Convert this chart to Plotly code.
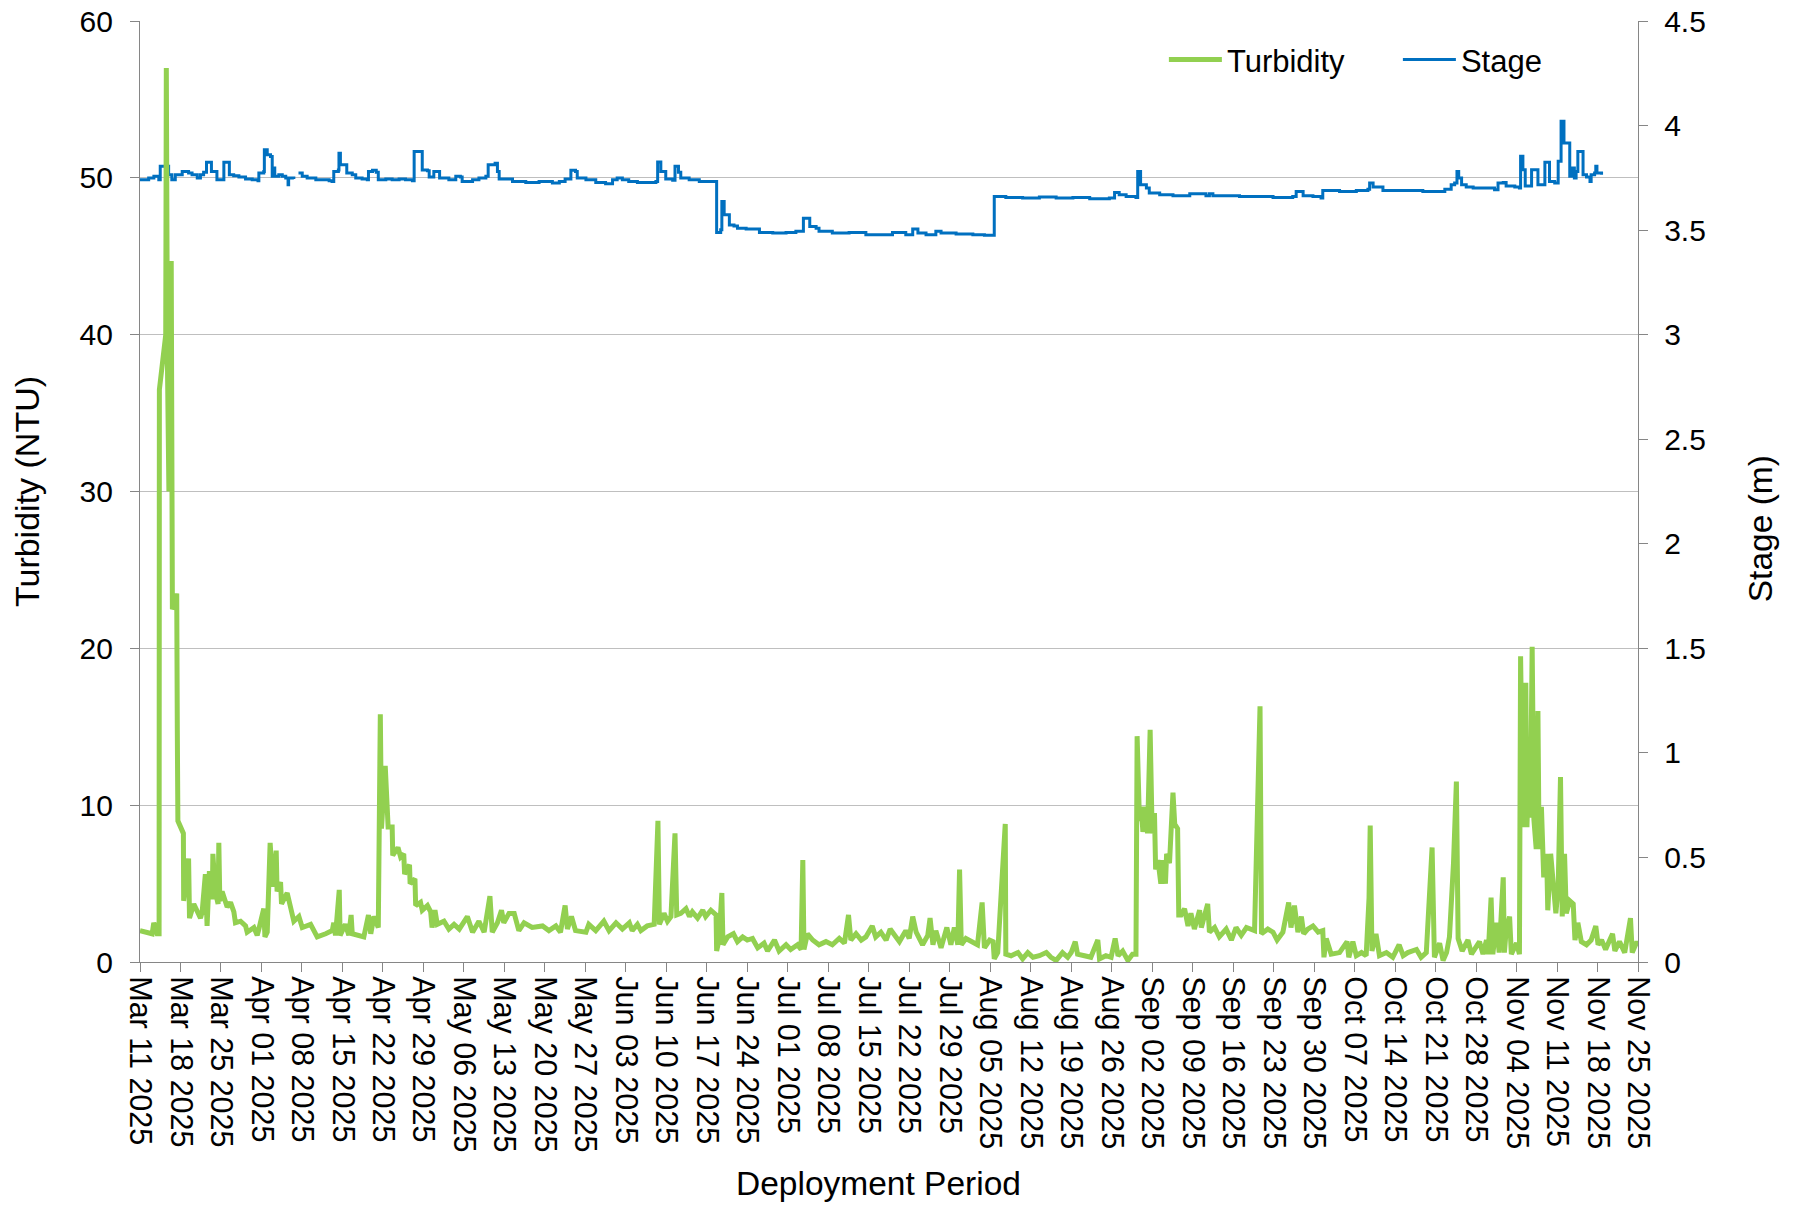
import pandas as pd
import plotly.graph_objects as go

START = pd.Timestamp("2025-03-11")
END = pd.Timestamp("2025-11-25")

# Turbidity (NTU): time as days since deployment start
turb_day = [
    0.0, 0.9, 2.1, 2.38, 2.96, 3.3, 3.35, 4.45, 4.55, 4.75, 5.0, 5.4, 5.6, 6.0, 6.35, 6.45, 6.55,
    7.5, 7.55, 8.4, 8.56, 9.3, 9.88, 10.46, 10.75, 11.3, 11.6, 12.0, 12.5, 12.6, 13.0, 13.5, 13.63,
    13.8, 14.2, 15.07, 15.65, 16.23, 16.5, 17.38, 18.25, 18.53, 19.69, 20.26, 20.55, 21.4, 21.6,
    22.0, 22.5, 22.97, 23.55, 23.7, 24.3, 24.47, 25.45, 26.03, 26.6, 27.47, 28.05, 29.5, 30.64,
    32.1, 33.24, 33.5, 33.8, 34.45, 34.6, 35.5, 36.1, 36.5, 36.7, 38.7, 39.5, 39.9, 40.45, 41.2,
    41.55, 41.75, 42.4, 42.9, 43.6, 43.7, 44.6, 45.06, 45.6, 45.75, 46.6, 46.7, 47.54, 47.66,
    48.5, 48.8, 49.7, 50.25, 50.5, 51.0, 51.4, 52.56, 53.4, 54.3, 55.2, 56.6, 57.5, 58.6, 59.5,
    60.5, 60.9, 61.8, 62.5, 62.9, 63.8, 64.7, 65.5, 66.4, 67.8, 69.6, 70.7, 71.9, 72.7, 73.5,
    73.9, 74.6, 75.3, 77.1, 77.6, 78.8, 80.2, 81.1, 82.3, 83.4, 84.6, 85.1, 86.0, 86.6, 87.7,
    88.9, 89.55, 89.8, 90.6, 91.2, 91.8, 92.5, 92.8, 93.5, 94.4, 95.0, 95.5, 96.4, 97.3, 97.8,
    98.7, 99.6, 99.7, 100.1, 100.6, 100.8, 101.6, 102.6, 103.3, 104.2, 105.0, 105.9, 106.8,
    107.9, 108.5, 109.7, 110.5, 111.7, 112.5, 113.7, 114.3, 114.6, 114.8, 115.4, 116.3, 117.4,
    118.6, 119.7, 120.9, 121.8, 122.5, 122.9, 123.8, 124.7, 125.5, 126.6, 127.2, 128.1, 129.0,
    129.7, 130.4, 131.3, 132.4, 133.0, 133.6, 134.2, 135.3, 136.2, 136.6, 137.1, 137.6, 138.5,
    139.5, 140.2, 140.8, 141.4, 141.7, 142.0, 142.8, 144.0, 144.8, 145.6, 146.0, 146.9, 147.5,
    147.7, 148.3, 149.6, 149.7, 150.6, 151.8, 152.6, 153.5, 154.4, 155.5, 156.7, 157.5, 158.4,
    159.5, 160.4, 161.0, 161.7, 162.1, 163.3, 164.4, 165.6, 165.9, 167.0, 167.9, 168.6, 169.1,
    169.9, 170.8, 171.6, 172.2, 172.4, 172.8, 173.1, 173.4, 173.95, 174.2, 174.65, 175.0, 175.4,
    175.6, 176.0, 176.5, 176.8, 177.3, 177.5, 178.0, 178.6, 178.9, 179.4, 179.6, 180.0, 180.6,
    181.2, 181.7, 182.3, 183.2, 183.5, 184.6, 184.9, 185.8, 186.6, 187.8, 188.7, 189.5, 190.4,
    191.3, 192.7, 193.65, 193.9, 195.0, 195.9, 196.6, 197.6, 198.6, 199.0, 199.6, 200.2, 200.8,
    201.2, 201.9, 202.8, 203.7, 204.5, 204.7, 205.1, 205.95, 207.4, 208.7, 209.0, 209.7, 210.3,
    211.2, 212.0, 212.5, 212.7, 213.0, 213.7, 214.3, 215.5, 216.6, 217.7, 218.4, 219.2, 220.7,
    221.5, 222.4, 223.4, 223.8, 224.7, 225.3, 225.9, 226.4, 227.1, 227.6, 227.9, 228.6, 229.6,
    230.2, 231.6, 232.2, 232.8, 233.1, 233.6, 233.9, 234.5, 235.0, 235.7, 235.9, 236.2, 236.8,
    237.1, 238.0, 238.5, 238.7, 239.1, 239.6, 239.8, 240.2, 240.4, 240.7, 241.0, 241.4, 241.7,
    241.9, 242.3, 242.7, 243.2, 243.4, 243.9, 244.3, 244.8, 245.2, 245.6, 245.9, 246.3, 246.6,
    247.2, 247.8, 248.1, 248.6, 249.2, 250.1, 250.9, 251.7, 252.1, 252.7, 253.4, 254.0, 254.6,
    255.0, 255.8, 256.7, 257.7, 258.0, 258.7, 259.0,
]
turb_ntu = [
    2.0, 1.9, 1.8, 2.5, 1.8, 1.8, 36.5, 40.0, 57.0, 38.0, 30.0, 44.7, 22.5, 22.8, 23.5, 14.8, 9.0,
    8.2, 3.9, 6.6, 2.8, 3.7, 3.3, 2.8, 3.2, 5.6, 2.3, 5.8, 4.0, 6.9, 4.5, 3.7, 7.6,
    3.9, 4.5, 3.5, 3.8, 3.2, 2.5, 2.6, 2.3, 1.9, 2.2, 1.7, 2.1, 3.4, 1.6,
    1.9, 7.6, 4.8, 7.1, 4.5, 5.1, 3.7, 4.4, 3.3, 2.6, 2.9, 2.2, 2.4, 1.6,
    1.8, 2.0, 2.5, 1.7, 4.6, 1.7, 2.4, 1.7, 3.0, 1.8, 1.6, 3.0, 1.8, 2.9, 2.2,
    15.8, 8.5, 12.5, 8.6, 8.6, 6.8, 7.3, 6.7, 6.9, 5.6, 6.2, 5.0, 5.3, 3.6,
    3.8, 3.3, 3.6, 3.2, 2.2, 3.3, 2.4, 2.6, 2.1, 2.4, 2.1, 2.9, 1.9, 2.6, 1.9,
    4.2, 1.9, 2.5, 3.3, 2.5, 3.1, 3.1, 2.0, 2.5, 2.2, 2.3, 2.0, 2.3, 1.9, 3.6,
    2.1, 2.9, 2.0, 1.9, 2.4, 2.0, 2.6, 2.0, 2.5, 2.1, 2.5, 2.0, 2.4, 2.0, 2.3,
    2.4, 9.0, 2.4, 3.1, 2.6, 2.9, 8.2, 3.0, 3.1, 3.4, 2.9, 3.2, 2.8, 3.3, 2.9,
    3.3, 3.0, 0.7, 1.4, 4.4, 1.1, 1.6, 1.8, 1.3, 1.6, 1.4, 1.5, 0.9,
    1.2, 0.7, 1.4, 0.7, 1.1, 0.8, 1.1, 0.8, 6.5, 0.8, 1.8, 1.4, 1.1,
    1.3, 1.1, 1.5, 1.2, 3.0, 1.4, 1.8, 1.4, 1.6, 2.3, 1.6, 1.9, 1.4,
    2.1, 1.7, 1.3, 2.0, 1.5, 2.9, 1.9, 1.1, 1.7, 2.8, 1.1, 2.0, 0.9,
    2.2, 1.1, 2.2, 1.1, 5.9, 1.1, 1.5, 1.3, 1.1, 3.8, 0.9, 1.4, 1.3,
    0.2, 0.6, 8.8, 0.5, 0.4, 0.6, 0.2, 0.6, 0.3, 0.4, 0.6, 0.3, 0.1,
    0.6, 0.3, 0.6, 1.3, 0.5, 0.4, 0.3, 1.4, 0.2, 0.4, 0.3, 1.5, 0.4,
    0.7, 0.1, 0.5, 0.5, 14.4, 9.0, 9.9, 8.3, 9.9, 8.2, 14.8, 8.2, 9.5,
    5.9, 6.5, 5.0, 6.5, 5.0, 6.9, 6.3, 10.8, 8.8, 8.5, 3.0, 3.0, 3.4,
    2.3, 3.1, 2.1, 3.3, 2.2, 3.7, 1.9, 2.2, 1.6, 2.1, 1.4, 2.2, 1.7,
    2.2, 2.0, 16.3, 1.8, 2.1, 1.9, 1.4, 1.9, 3.8, 2.2, 3.6, 1.9, 2.9,
    1.8, 2.1, 2.3, 1.9, 2.0, 0.3, 1.5, 0.5, 0.6, 1.3, 0.3, 1.3, 0.4,
    0.6, 0.4, 4.1, 8.7, 0.7, 1.8, 0.4, 0.6, 0.3, 1.1, 0.4, 0.6, 0.8,
    0.3, 0.6, 7.3, 0.3, 1.2, 0.1, 0.6, 1.6, 6.3, 11.5, 1.5, 0.7, 1.4,
    0.5, 1.3, 0.5, 1.4, 0.5, 4.1, 0.5, 2.5, 0.6, 5.4, 0.6, 2.0, 2.9,
    0.5, 1.2, 0.5, 19.5, 8.6, 17.8, 8.6, 13.7, 9.2, 20.1, 9.1, 7.2, 16.0,
    7.2, 9.9, 5.4, 6.9, 3.3, 6.9, 5.0, 3.1, 4.8, 11.8, 2.9, 6.9, 3.1,
    3.9, 3.7, 1.4, 2.5, 1.3, 1.1, 1.4, 2.3, 1.1, 1.4, 0.8, 1.3, 1.8,
    0.7, 1.3, 0.6, 2.8, 0.6, 1.2, 1.2,
]

# Stage (m): step changes, days since deployment start (None = logging gap)
stage_day = [
    0.0, 1.5, 2.4, 3.25, 3.5, 4.95, 5.5, 6.1, 7.3, 8.4, 9.0, 9.9, 10.45, 11.0, 11.5, 12.35,
    13.3, 14.5, 15.45, 16.2, 17.1, 18.25, 19.4, 20.4, 20.55, 21.4, 21.5, 22.0, 22.57, 22.86,
    23.1, 23.3, 24.0, 24.6, 25.2, 25.6, 25.7, 26.6, 26.8, 27.4, 28.05, 28.9, 30.4, 32.7, 33.2,
    33.5, 34.3, 34.4, 34.65, 35.75, 36.7, 37.3, 38.4, 39.3, 39.5, 40.2, 40.85, 41.2, 42.5,
    43.6, 44.8, 45.9, 47.1, 47.4, 48.8, 49.7, 50.0, 50.8, 51.8, 53.4, 54.6, 55.4, 55.7, 57.5,
    58.6, 59.8, 60.2, 61.4, 61.8, 62.1, 64.4, 66.7, 69.0, 71.3, 72.5, 73.5, 74.5, 75.3, 75.6,
    77.1, 78.8, 80.5, 81.7, 82.5, 83.4, 84.5, 86.0, 89.2, 89.5, 90.05, 90.9, 92.1, 92.5, 93.1,
    93.5, 94.95, 96.7, 99.7, 100.4, 100.6, 101.0, 101.9, 102.7, 103.3, 104.8, 107.1, 109.4,
    111.7, 113.4, 114.7, 115.8, 116.9, 117.4, 119.7, 122.6, 125.5, 130.1, 132.4, 133.6, 134.5,
    135.9, 137.6, 138.5, 141.1, 144.0, 146.0, 147.7, 149.7, 152.6, 155.5, 158.4, 161.3, 164.2,
    167.6, 168.5, 169.3, 170.5, 172.2, 172.5, 173.0, 174.0, 174.5, 176.3, 178.6, 181.5, 184.3,
    184.9, 185.5, 190.1, 195.9, 199.3, 199.9, 201.1, 202.8, 204.2, 204.5, 207.4, 210.3, 212.3,
    212.6, 213.2, 214.9, 221.8, 225.6, 226.7, 227.3, 227.7, 228.0, 228.5, 229.3, 230.5, 234.2,
    234.8, 235.7, 236.2, 237.7, 238.5, 238.7, 239.1, 239.5, 240.6, 241.7, 242.9, 243.7, 244.6,
    245.2, 245.7, 246.2, 247.2, 247.5, 248.0, 248.3, 248.6, 249.5, 250.1, 250.7, 250.9, 251.5,
    251.7, 251.9, 252.7,
]
stage_m = [
    3.741, 3.749, 3.757, 3.741, 3.805, 3.765, 3.741, 3.765, 3.780, 3.773, 3.765, 3.749, 3.765, 3.777, 3.824, 3.780,
    3.741, 3.824, 3.765, 3.760, 3.754, 3.744, 3.741, 3.736, 3.773, 3.780, 3.884, 3.860, 3.852, 3.757,
    3.797, 3.757, 3.765, 3.757, 3.749, 3.717, 3.749, 3.744, None, 3.773, 3.757, 3.749, 3.741, 3.736, 3.733,
    3.780, 3.787, 3.868, 3.813, 3.773, 3.765, 3.749, 3.744, 3.741, 3.780, 3.786, 3.777, 3.741, 3.744,
    3.741, 3.744, 3.741, 3.736, 3.876, 3.787, 3.784, 3.754, 3.780, 3.749, 3.741, 3.757, 3.754, 3.733, 3.741,
    3.749, 3.757, 3.813, 3.820, 3.780, 3.744, 3.733, 3.728, 3.733, 3.725, 3.733, 3.744, 3.786, 3.780, 3.749,
    3.741, 3.728, 3.722, 3.741, 3.749, 3.741, 3.733, 3.728, 3.733, 3.826, 3.780, 3.744, 3.738, 3.805, 3.777,
    3.749, 3.741, 3.733, 3.489, 3.502, 3.637, 3.573, 3.525, 3.520, 3.509, 3.505, 3.489, 3.486,
    3.489, 3.494, 3.557, 3.517, 3.509, 3.494, 3.486, 3.489, 3.478, 3.489, 3.478, 3.505, 3.486,
    3.478, 3.494, 3.486, 3.481, 3.478, 3.475, 3.661, 3.656, 3.653, 3.658, 3.653, 3.656, 3.650,
    3.653, 3.680, 3.669, 3.661, 3.656, 3.780, 3.717, 3.701, 3.677, 3.669, 3.664, 3.674, 3.664,
    3.674, 3.664, 3.661, 3.656, 3.661, 3.685, 3.664, 3.661, 3.653, 3.690, 3.685, 3.690, 3.696,
    3.725, 3.706, 3.690, 3.685, 3.696, 3.717, 3.725, 3.780, 3.749, 3.717, 3.706, 3.701, 3.693,
    3.725, 3.728, 3.711, 3.706, 3.701, 3.853, 3.789, 3.711, 3.789, 3.717, 3.824, 3.733, 3.725,
    3.829, 4.020, 3.917, 3.757, 3.797, 3.749, 3.780, 3.876, 3.765, 3.754, 3.733, 3.765, 3.773,
    3.805, 3.773, 3.765,
]

tick_dates = pd.date_range("2025-03-11", "2025-11-25", freq="7D")

turb_x = START + pd.to_timedelta(turb_day, unit="D")
stage_x = START + pd.to_timedelta(stage_day, unit="D")

FONT = "Liberation Sans, Arial, sans-serif"
GREEN = "#92D050"
BLUE = "#0070C0"
AXIS = "#868686"
GRID = "#BFBFBF"
TICK_SIZE = 30
TITLE_SIZE = 33.5

fig = go.Figure()
fig.add_trace(go.Scatter(
    x=turb_x, y=turb_ntu, name="Turbidity", mode="lines", yaxis="y2",
    line=dict(color=GREEN, width=5),
))
fig.add_trace(go.Scatter(
    x=stage_x, y=stage_m, name="Stage", mode="lines", yaxis="y",
    line=dict(color=BLUE, width=3, shape="hv"), connectgaps=False,
))

fig.update_layout(
    width=1801, height=1205,
    margin=dict(l=140, r=163, t=21, b=243),
    paper_bgcolor="white", plot_bgcolor="white",
    font=dict(family=FONT, size=TICK_SIZE, color="black"),
    showlegend=True,
    legend=dict(
        orientation="h", x=0.6835, y=0.9875, xanchor="left", yanchor="top",
        bgcolor="rgba(0,0,0,0)", font=dict(size=31), itemwidth=53,
        entrywidth=166, entrywidthmode="pixels",
    ),
    xaxis=dict(
        type="date", range=[START, END], automargin=False,
        tickvals=tick_dates, tickformat="%b %d %Y", tickangle=90,
        showgrid=False, showline=True, linecolor=AXIS, linewidth=1.3,
        ticks="outside", ticklen=9, tickcolor=AXIS, tickwidth=1.3,
        tickfont=dict(size=30.5), ticklabelstandoff=-2,
        zeroline=False,
    ),
    yaxis=dict(
        range=[0, 4.5], dtick=0.5, side="right", automargin=False,
        showgrid=False, showline=True, linecolor=AXIS, linewidth=1.3,
        ticks="outside", ticklen=9, tickcolor=AXIS, tickwidth=1.3,
        ticklabelstandoff=10,
        tickfont=dict(size=TICK_SIZE), zeroline=False,
    ),
    yaxis2=dict(
        title=dict(text="Turbidity (NTU)", font=dict(size=34), standoff=29),
        range=[0, 60], dtick=10, side="left", overlaying="y", automargin=False,
        showgrid=True, gridcolor=GRID, gridwidth=1.3,
        showline=True, linecolor=AXIS, linewidth=1.3,
        ticks="outside", ticklen=9, tickcolor=AXIS, tickwidth=1.3,
        ticklabelstandoff=11,
        tickfont=dict(size=TICK_SIZE), zeroline=False,
    ),
    annotations=[
        dict(text="Deployment Period", xref="paper", yref="paper",
             x=0.4931, y=-0.2349, xanchor="center", yanchor="middle",
             showarrow=False, font=dict(size=TITLE_SIZE)),
        dict(text="Stage (m)", xref="paper", yref="paper",
             x=1.082, y=0.4608, xanchor="center", yanchor="middle",
             textangle=-90, showarrow=False, font=dict(size=TITLE_SIZE)),
    ],
)

fig.write_html(
    "out.html",
    config={"displayModeBar": False},
    post_script="document.body.style.margin='0';document.body.style.padding='0';",
)
